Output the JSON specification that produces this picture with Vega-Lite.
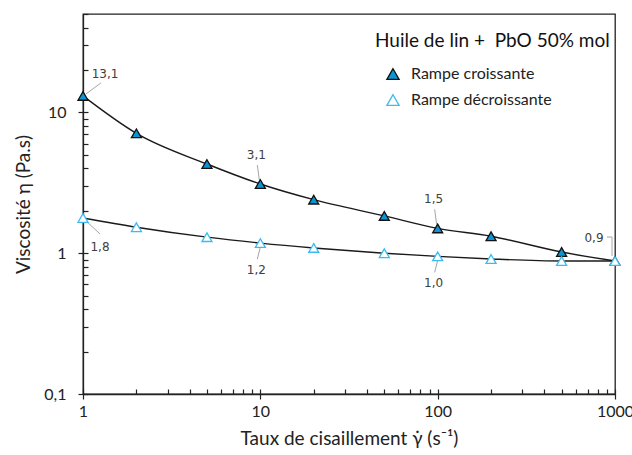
{
  "$schema": "https://vega.github.io/schema/vega-lite/v6.json",
  "width": 532,
  "height": 380,
  "autosize": {"type": "none"},
  "padding": {"left": 83, "top": 14, "right": 17, "bottom": 61},
  "background": "white",
  "config": {
    "font": "Lato",
    "view": {"stroke": "#222222", "strokeWidth": 1.3},
    "axis": {"domainColor": "#222222", "tickColor": "#222222", "domainWidth": 1.3, "tickWidth": 1.2, "grid": false, "labelColor": "#222222", "titleColor": "#222222", "titleFontWeight": "normal"},
    "legend": {"symbolStrokeWidth": 1.3}
  },
  "datasets": {
    "mesures": [
      {"gamma": 1, "visc": 13.1, "rampe": "Rampe croissante"},
      {"gamma": 2, "visc": 7.1, "rampe": "Rampe croissante"},
      {"gamma": 5, "visc": 4.3, "rampe": "Rampe croissante"},
      {"gamma": 10, "visc": 3.1, "rampe": "Rampe croissante"},
      {"gamma": 20, "visc": 2.4, "rampe": "Rampe croissante"},
      {"gamma": 50, "visc": 1.84, "rampe": "Rampe croissante"},
      {"gamma": 100, "visc": 1.5, "rampe": "Rampe croissante"},
      {"gamma": 200, "visc": 1.32, "rampe": "Rampe croissante"},
      {"gamma": 500, "visc": 1.02, "rampe": "Rampe croissante"},
      {"gamma": 1000, "visc": 0.88, "rampe": "Rampe croissante"},
      {"gamma": 1, "visc": 1.78, "rampe": "Rampe décroissante"},
      {"gamma": 2, "visc": 1.53, "rampe": "Rampe décroissante"},
      {"gamma": 5, "visc": 1.3, "rampe": "Rampe décroissante"},
      {"gamma": 10, "visc": 1.18, "rampe": "Rampe décroissante"},
      {"gamma": 20, "visc": 1.09, "rampe": "Rampe décroissante"},
      {"gamma": 50, "visc": 1.0, "rampe": "Rampe décroissante"},
      {"gamma": 100, "visc": 0.95, "rampe": "Rampe décroissante"},
      {"gamma": 200, "visc": 0.91, "rampe": "Rampe décroissante"},
      {"gamma": 500, "visc": 0.88, "rampe": "Rampe décroissante"},
      {"gamma": 1000, "visc": 0.88, "rampe": "Rampe décroissante"}
    ],
    "etiquettes": [
      {"gamma": 1, "visc": 13.1, "texte": "13,1", "place": "a"},
      {"gamma": 1, "visc": 1.78, "texte": "1,8", "place": "b"},
      {"gamma": 10, "visc": 3.1, "texte": "3,1", "place": "haut"},
      {"gamma": 100, "visc": 1.5, "texte": "1,5", "place": "haut"},
      {"gamma": 10, "visc": 1.18, "texte": "1,2", "place": "bas"},
      {"gamma": 100, "visc": 0.95, "texte": "1,0", "place": "bas"},
      {"gamma": 1000, "visc": 0.88, "texte": "0,9", "place": "c"}
    ]
  },
  "encoding": {
    "x": {"field": "gamma", "type": "quantitative", "scale": {"type": "log", "domain": [1, 1000], "nice": false}, "axis": null},
    "y": {"field": "visc", "type": "quantitative", "scale": {"type": "log", "domain": [0.1, 50], "nice": false}, "axis": null}
  },
  "layer": [
    {
      "data": {"name": "mesures"},
      "mark": {"type": "line", "color": "#1a1a1a", "strokeWidth": 1.4, "interpolate": "monotone"},
      "encoding": {
        "detail": {"field": "rampe"},
        "x": {"field": "gamma", "type": "quantitative", "scale": {"type": "log", "domain": [1, 1000], "nice": false}, "axis": {"orient": "top", "offset": -380, "values": [1,2,3,4,5,6,7,8,9,10,20,30,40,50,60,70,80,90,100,200,300,400,500,600,700,800,900,1000], "tickSize": 5, "labels": false, "domain": false, "title": null, "zindex": 1}},
        "y": {"field": "visc", "type": "quantitative", "scale": {"type": "log", "domain": [0.1, 50], "nice": false}, "axis": {"orient": "right", "offset": -532, "values": [0.1,0.2,0.3,0.4,0.5,0.6,0.7,0.8,0.9,1,2,3,4,5,6,7,8,9,10,20,30,40,50], "tickSize": 5, "labels": false, "domain": false, "title": null, "zindex": 1}}
      }
    },
    {
      "data": {"name": "etiquettes"},
      "transform": [{"filter": "datum.place == 'a'"}],
      "mark": {"type": "rule", "color": "#a6a6a6", "strokeWidth": 1, "xOffset": 3, "yOffset": -2, "x2Offset": 18, "y2Offset": -13},
      "encoding": {"x2": {"field": "gamma"}, "y2": {"field": "visc"}}
    },
    {
      "data": {"name": "etiquettes"},
      "transform": [{"filter": "datum.place == 'b'"}],
      "mark": {"type": "rule", "color": "#a6a6a6", "strokeWidth": 1, "xOffset": 3, "yOffset": 3, "x2Offset": 17, "y2Offset": 16},
      "encoding": {"x2": {"field": "gamma"}, "y2": {"field": "visc"}}
    },
    {
      "data": {"name": "etiquettes"},
      "transform": [{"filter": "datum.place == 'haut'"}],
      "mark": {"type": "rule", "color": "#a6a6a6", "strokeWidth": 1, "xOffset": -1, "yOffset": -4, "x2Offset": -3, "y2Offset": -19},
      "encoding": {"x2": {"field": "gamma"}, "y2": {"field": "visc"}}
    },
    {
      "data": {"name": "etiquettes"},
      "transform": [{"filter": "datum.place == 'bas'"}],
      "mark": {"type": "rule", "color": "#a6a6a6", "strokeWidth": 1, "xOffset": 0, "yOffset": 4, "x2Offset": -3, "y2Offset": 16},
      "encoding": {"x2": {"field": "gamma"}, "y2": {"field": "visc"}}
    },
    {
      "data": {"name": "etiquettes"},
      "transform": [{"filter": "datum.place == 'c'"}],
      "mark": {"type": "rule", "color": "#a6a6a6", "strokeWidth": 1, "xOffset": -8, "yOffset": -24, "x2Offset": -3, "y2Offset": -24},
      "encoding": {"x2": {"field": "gamma"}, "y2": {"field": "visc"}}
    },
    {
      "data": {"name": "etiquettes"},
      "transform": [{"filter": "datum.place == 'c'"}],
      "mark": {"type": "rule", "color": "#a6a6a6", "strokeWidth": 1, "xOffset": -3, "yOffset": -24, "x2Offset": -3, "y2Offset": -5},
      "encoding": {"x2": {"field": "gamma"}, "y2": {"field": "visc"}}
    },
    {
      "data": {"name": "mesures"},
      "mark": {"type": "point", "shape": "triangle-up", "filled": true, "size": 100, "strokeWidth": 1.3, "opacity": 1},
      "encoding": {
        "x": {"field": "gamma", "type": "quantitative", "scale": {"type": "log", "domain": [1, 1000], "nice": false}, "axis": {"orient": "bottom", "values": [1, 10, 100, 1000], "format": "d", "labelOverlap": false, "labelFlush": false, "tickSize": 5, "labelFontSize": 16, "labelPadding": 4, "title": "Taux de cisaillement γ̇ (s⁻¹)", "titleFontSize": 19, "titlePadding": 10}},
        "y": {"field": "visc", "type": "quantitative", "scale": {"type": "log", "domain": [0.1, 50], "nice": false}, "axis": {"orient": "left", "values": [0.1, 1, 10], "labelExpr": "datum.value < 1 ? '0,1' : format(datum.value, 'd')", "labelOverlap": false, "labelFlush": false, "tickSize": 5, "labelFontSize": 16, "labelPadding": 12, "title": "Viscosité η (Pa.s)", "titleFontSize": 19, "titlePadding": 10}},
        "fill": {"field": "rampe", "type": "nominal", "title": "Huile de lin +\u00a0 PbO 50% mol", "scale": {"domain": ["Rampe croissante", "Rampe décroissante"], "range": ["#0b95d4", "#ffffff"]},
          "legend": {"orient": "none", "legendX": 292, "legendY": 18, "symbolType": "triangle-up", "symbolSize": 150, "symbolOffset": 10, "titleFontSize": 19, "titleFontWeight": "normal", "titleColor": "#111111", "titleLimit": 400, "titlePadding": 15, "labelFontSize": 16, "labelColor": "#222222", "labelOffset": 10, "labelLimit": 300, "rowPadding": 10}},
        "stroke": {"field": "rampe", "type": "nominal", "title": "Huile de lin +\u00a0 PbO 50% mol", "scale": {"domain": ["Rampe croissante", "Rampe décroissante"], "range": ["#111111", "#3bbbef"]}}
      }
    },
    {
      "data": {"name": "etiquettes"},
      "transform": [{"filter": "datum.place == 'a'"}],
      "mark": {"type": "text", "font": "DejaVu Sans", "fontSize": 12, "color": "#404040", "dx": 22, "dy": -22},
      "encoding": {"text": {"field": "texte"}}
    },
    {
      "data": {"name": "etiquettes"},
      "transform": [{"filter": "datum.place == 'b'"}],
      "mark": {"type": "text", "font": "DejaVu Sans", "fontSize": 12, "color": "#404040", "dx": 17, "dy": 29},
      "encoding": {"text": {"field": "texte"}}
    },
    {
      "data": {"name": "etiquettes"},
      "transform": [{"filter": "datum.place == 'haut'"}],
      "mark": {"type": "text", "font": "DejaVu Sans", "fontSize": 12, "color": "#404040", "dx": -4, "dy": -29},
      "encoding": {"text": {"field": "texte"}}
    },
    {
      "data": {"name": "etiquettes"},
      "transform": [{"filter": "datum.place == 'bas'"}],
      "mark": {"type": "text", "font": "DejaVu Sans", "fontSize": 12, "color": "#404040", "dx": -4, "dy": 27},
      "encoding": {"text": {"field": "texte"}}
    },
    {
      "data": {"name": "etiquettes"},
      "transform": [{"filter": "datum.place == 'c'"}],
      "mark": {"type": "text", "font": "DejaVu Sans", "fontSize": 12, "color": "#404040", "dx": -21, "dy": -23},
      "encoding": {"text": {"field": "texte"}}
    }
  ],
  "resolve": {"axis": {"x": "independent", "y": "independent"}}
}
